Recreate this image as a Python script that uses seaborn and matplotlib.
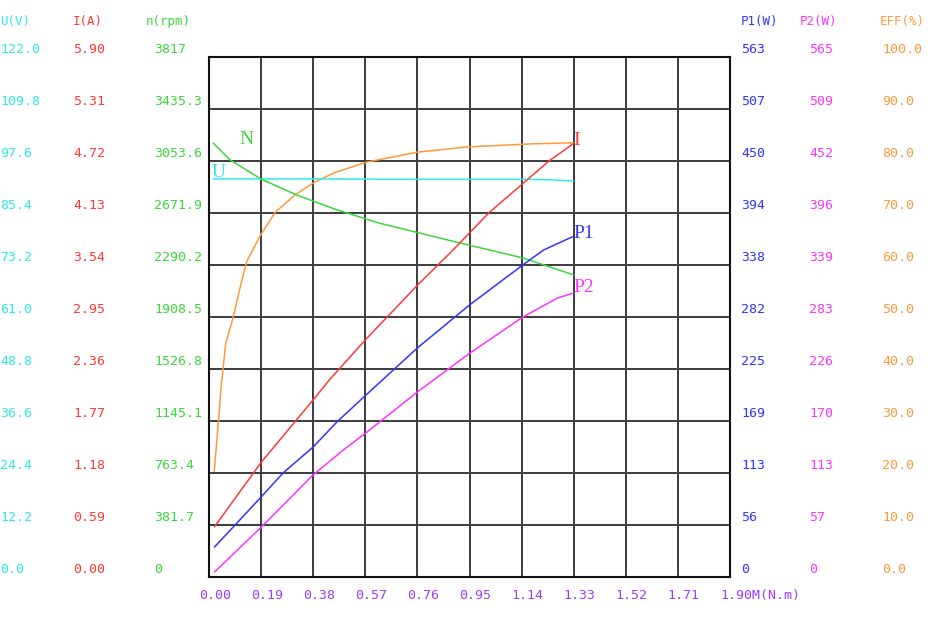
import numpy as np
import pandas as pd
import matplotlib
matplotlib.use("Agg")
import matplotlib.pyplot as plt
import matplotlib.transforms as mtransforms
import seaborn as sns

# ---------------- data ----------------
torque_ticks = [0.00, 0.19, 0.38, 0.57, 0.76, 0.95, 1.14, 1.33, 1.52, 1.71, 1.90]
torque_labels = ["0.00", "0.19", "0.38", "0.57", "0.76", "0.95", "1.14", "1.33",
                 "1.52", "1.71", "1.90M(N.m)"]

u_labels = ["122.0", "109.8", "97.6", "85.4", "73.2", "61.0", "48.8", "36.6", "24.4", "12.2", "0.0"]
i_labels = ["5.90", "5.31", "4.72", "4.13", "3.54", "2.95", "2.36", "1.77", "1.18", "0.59", "0.00"]
n_labels = ["3817", "3435.3", "3053.6", "2671.9", "2290.2", "1908.5", "1526.8", "1145.1", "763.4", "381.7", "0"]
p1_labels = ["563", "507", "450", "394", "338", "282", "225", "169", "113", "56", "0"]
p2_labels = ["565", "509", "452", "396", "339", "283", "226", "170", "113", "57", "0"]
eff_labels = ["100.0", "90.0", "80.0", "70.0", "60.0", "50.0", "40.0", "30.0", "20.0", "10.0", "0.0"]

# U (V)
u_torque = [0.015, 0.38, 0.76, 1.14, 1.24, 1.33]
u_values = [93.4, 93.4, 93.3, 93.3, 93.2, 92.9]
# I (A)
i_torque = [0.02, 0.19, 0.38, 0.44, 0.57, 0.76, 0.89, 1.02, 1.24, 1.33]
i_values = [0.57, 1.30, 2.01, 2.24, 2.69, 3.31, 3.71, 4.13, 4.72, 4.92]
# n (rpm)
n_torque = [0.015, 0.077, 0.19, 0.32, 0.46, 0.62, 0.915, 1.145, 1.33]
n_values = [3186, 3061, 2921, 2804, 2700, 2598, 2452, 2342, 2217]
# P1 (W)
p1_torque = [0.02, 0.088, 0.19, 0.27, 0.38, 0.467, 0.576, 0.76, 0.95, 1.145, 1.22, 1.33]
p1_values = [32.5, 54, 86.6, 112.6, 140.8, 168, 198, 248, 294.5, 338, 354, 369]
# P2 (W)
p2_torque = [0.02, 0.19, 0.38, 0.49, 0.576, 0.76, 0.95, 1.145, 1.27, 1.33]
p2_values = [5.4, 54, 111, 138, 157.5, 201, 243, 282.5, 303, 308.6]
# EFF (%)
eff_torque = [0.019, 0.034, 0.044, 0.061, 0.089, 0.113, 0.137, 0.186, 0.241, 0.314,
              0.387, 0.46, 0.576, 0.76, 0.94, 1.18, 1.33]
eff_values = [20.3, 29.6, 36.5, 44.9, 50.1, 55.6, 60.6, 65.6, 70.1, 73.5,
              76.0, 77.8, 79.8, 81.7, 82.7, 83.3, 83.5]

# ---------------- style ----------------
sns.set_style("white")
MONO = ["DejaVu Sans Mono"]
SERIF = ["Liberation Serif", "DejaVu Serif"]
plt.rcParams["font.family"] = MONO

C_U = "#2EEBEB"
C_I = "#FF3838"
C_N = "#3AD83A"
C_P1 = "#3333FF"
C_P2 = "#FF33FF"
C_EFF = "#FF9A3C"
C_X = "#9A3CFF"

W, H = 940, 619
fig = plt.figure(figsize=(W / 100, H / 100), dpi=100)
x0, x1, y_top, y_bot = 209, 730, 57, 577
ax = fig.add_axes([x0 / W, 1 - y_bot / H, (x1 - x0) / W, (y_bot - y_top) / H])
ax.set_facecolor("white")
ax.set_yticks(np.linspace(0, 1, 11))
ax.set_ylim(0, 1)
ax.set_xticks(torque_ticks)
ax.set_xticklabels(torque_labels)
ax.grid(True, color="#3c3c3c", lw=1.4)
for s in ax.spines.values():
    s.set_color("#111111")
    s.set_linewidth(1.5)


def series(xs, ys, ymax, color):
    a = ax.twinx()
    a.set_ylim(0, ymax)
    sns.lineplot(x=xs, y=ys, ax=a, color=color, lw=1.1)
    a.set_ylim(0, ymax)
    a.set_axis_off()
    return a


ax_eff = series(eff_torque, eff_values, float(eff_labels[0]), C_EFF)
ax_u = series(u_torque, u_values, float(u_labels[0]), C_U)
ax_n = series(n_torque, n_values, float(n_labels[0]), C_N)
ax_i = series(i_torque, i_values, float(i_labels[0]), C_I)
ax_p1 = series(p1_torque, p1_values, float(p1_labels[0]), C_P1)
ax_p2 = series(p2_torque, p2_values, float(p2_labels[0]), C_P2)
ax.set_xlim(0, 1.9)

# tick styling after twinning (twinx re-enables left ticks)
ax.tick_params(axis="y", left=False, right=False, length=0, labelleft=False, labelright=False)
ax.tick_params(axis="x", bottom=False, top=False, length=0, pad=8.5, labelcolor=C_X, labelsize=9.5)
shift = mtransforms.ScaledTranslation(-10 / 100, 0, fig.dpi_scale_trans)
for lab in ax.get_xticklabels():
    lab.set_horizontalalignment("left")
    lab.set_transform(lab.get_transform() + shift)

# ---------------- scale columns ----------------
up = mtransforms.ScaledTranslation(0, 7.5 / 100, fig.dpi_scale_trans)
columns = [
    (u_labels, ax_u, C_U, 0, "U(V)", 0),
    (i_labels, ax_i, C_I, 73, "I(A)", 73),
    (n_labels, ax_n, C_N, 154, "n(rpm)", 146),
    (p1_labels, ax_p1, C_P1, 741, "P1(W)", 741),
    (p2_labels, ax_p2, C_P2, 809, "P2(W)", 800),
    (eff_labels, ax_eff, C_EFF, 882, "EFF(%)", 880),
]
for labels, a, col, xp, head, hx in columns:
    tr = mtransforms.blended_transform_factory(fig.transFigure, a.transData) + up
    for lbl in labels:
        a.text(xp / W, float(lbl), lbl, transform=tr, ha="left", va="center",
               color=col, fontsize=9.5, family=MONO, clip_on=False)
    fig.text(hx / W, 1 - 22 / H, head, ha="left", va="center", color=col,
             fontsize=9, family=MONO)

# ---------------- curve labels ----------------
def tag(a, xy, text, col, dx, dy, ha):
    a.annotate(text, xy=xy, xytext=(dx, dy), textcoords="offset pixels",
               ha=ha, va="center", color=col, fontsize=14, family=SERIF,
               annotation_clip=False)

tag(ax_n, (n_torque[0], n_values[0]), "N", C_N, 33, 3, "center")
tag(ax_u, (u_torque[0], u_values[0]), "U", C_U, 6, 6, "center")
tag(ax_i, (i_torque[-1], i_values[-1]), "I", C_I, 0, 3, "left")
tag(ax_p1, (p1_torque[-1], p1_values[-1]), "P1", C_P1, 0, 3, "left")
tag(ax_p2, (p2_torque[-1], p2_values[-1]), "P2", C_P2, 0, 5, "left")

fig.savefig("out.png", dpi=100)
